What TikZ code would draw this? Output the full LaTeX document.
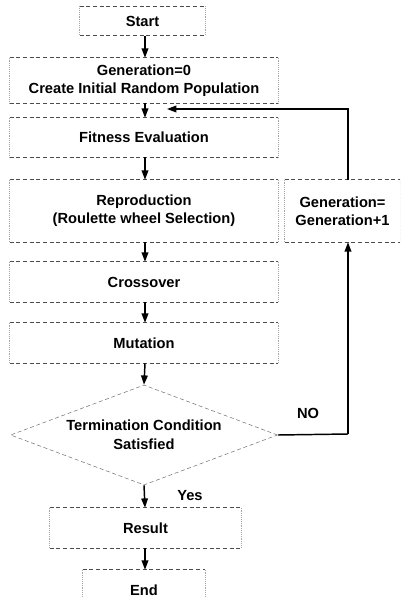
\documentclass[tikz,border=0pt]{standalone}
\usepackage{fontspec}
\setmainfont{Liberation Sans}
\usetikzlibrary{shapes.geometric,arrows.meta}
\begin{document}
\begin{tikzpicture}[x=0.75pt,y=-0.75pt,
  box/.style={minimum width=#1*0.75pt, inner sep=0pt, font=\fontsize{11}{13.5}\selectfont\bfseries, align=center},
  box/.default=268,
  hedge/.style={draw=black!70, densely dashed, line width=0.55pt},
  vedge/.style={draw=black!35, densely dotted, line width=0.4pt},
  dia/.style={diamond, draw=black!55, densely dashed, line width=0.4pt, inner sep=0pt, minimum width=267*0.75pt, minimum height=100*0.75pt, aspect=2.67, font=\fontsize{11}{14.5}\selectfont\bfseries, align=center},
  arr/.style={-{Triangle[length=7pt,width=5pt]}, line width=1.1pt, black},
  lab/.style={font=\fontsize{11}{12}\selectfont\bfseries}
]
\useasboundingbox (0,0) rectangle (400,598);
\clip (0,0) rectangle (400,598);
\node[box=125, minimum height=29*0.75pt] (start) at (142.5,21) {Start};
\node[box, minimum height=45*0.75pt] (gen0) at (144,80.5) {Generation=0\\Create Initial Random Population};
\node[box, minimum height=39*0.75pt] (fit) at (144,137.5) {Fitness Evaluation};
\node[box, minimum height=62*0.75pt] (rep) at (144,211) {Reproduction\\(Roulette wheel Selection)};
\node[box=115, minimum height=62*0.75pt] (genp) at (342.5,211) {Generation=\\Generation+1};
\node[box, minimum height=40*0.75pt] (cross) at (144,282) {Crossover};
\node[box, minimum height=40*0.75pt] (mut) at (144,343) {Mutation};
\node[dia] (term) at (144,435) {Termination Condition\\Satisfied};
\node[box=191, minimum height=40*0.75pt] (res) at (145.5,528) {Result};
\node[box=122, minimum height=40*0.75pt] (end) at (144,590) {End};
\foreach \n in {start,gen0,fit,rep,genp,cross,mut,res,end}{
  \draw[hedge] (\n.north west) -- (\n.north east);
  \draw[hedge] (\n.south west) -- (\n.south east);
  \draw[vedge] (\n.north west) -- (\n.south west);
  \draw[vedge] (\n.north east) -- (\n.south east);
}
\coordinate (fb) at (167,109);
\coordinate (c1) at (348,109);
\coordinate (c2) at (348,434);
\draw[arr] (start.south -| 145,0) -- (gen0.north -| 145,0);
\draw[arr] (gen0.south -| 145,0) -- (fit.north -| 145,0);
\draw[arr] (fit.south -| 145,0) -- (rep.north -| 145,0);
\draw[arr] (rep.south -| 145,0) -- (cross.north -| 145,0);
\draw[arr] (cross.south -| 145,0) -- (mut.north -| 145,0);
\draw[arr] (mut.south -| 145,0) -- (term.north);
\draw[arr] (term.south) -- (res.north -| 145,0);
\draw[arr] (res.south -| 145,0) -- (end.north -| 145,0);
\draw[line width=1.1pt] (term.east) -- (c2);
\draw[arr] (c2) -- (genp.south -| c2);
\draw[arr] (genp.north -| c1) -- (c1) -- (fb);
\node[lab] (no) at (308,413) {NO};
\node[lab] (yes) at (190,496) {Yes};
\end{tikzpicture}
\end{document}
